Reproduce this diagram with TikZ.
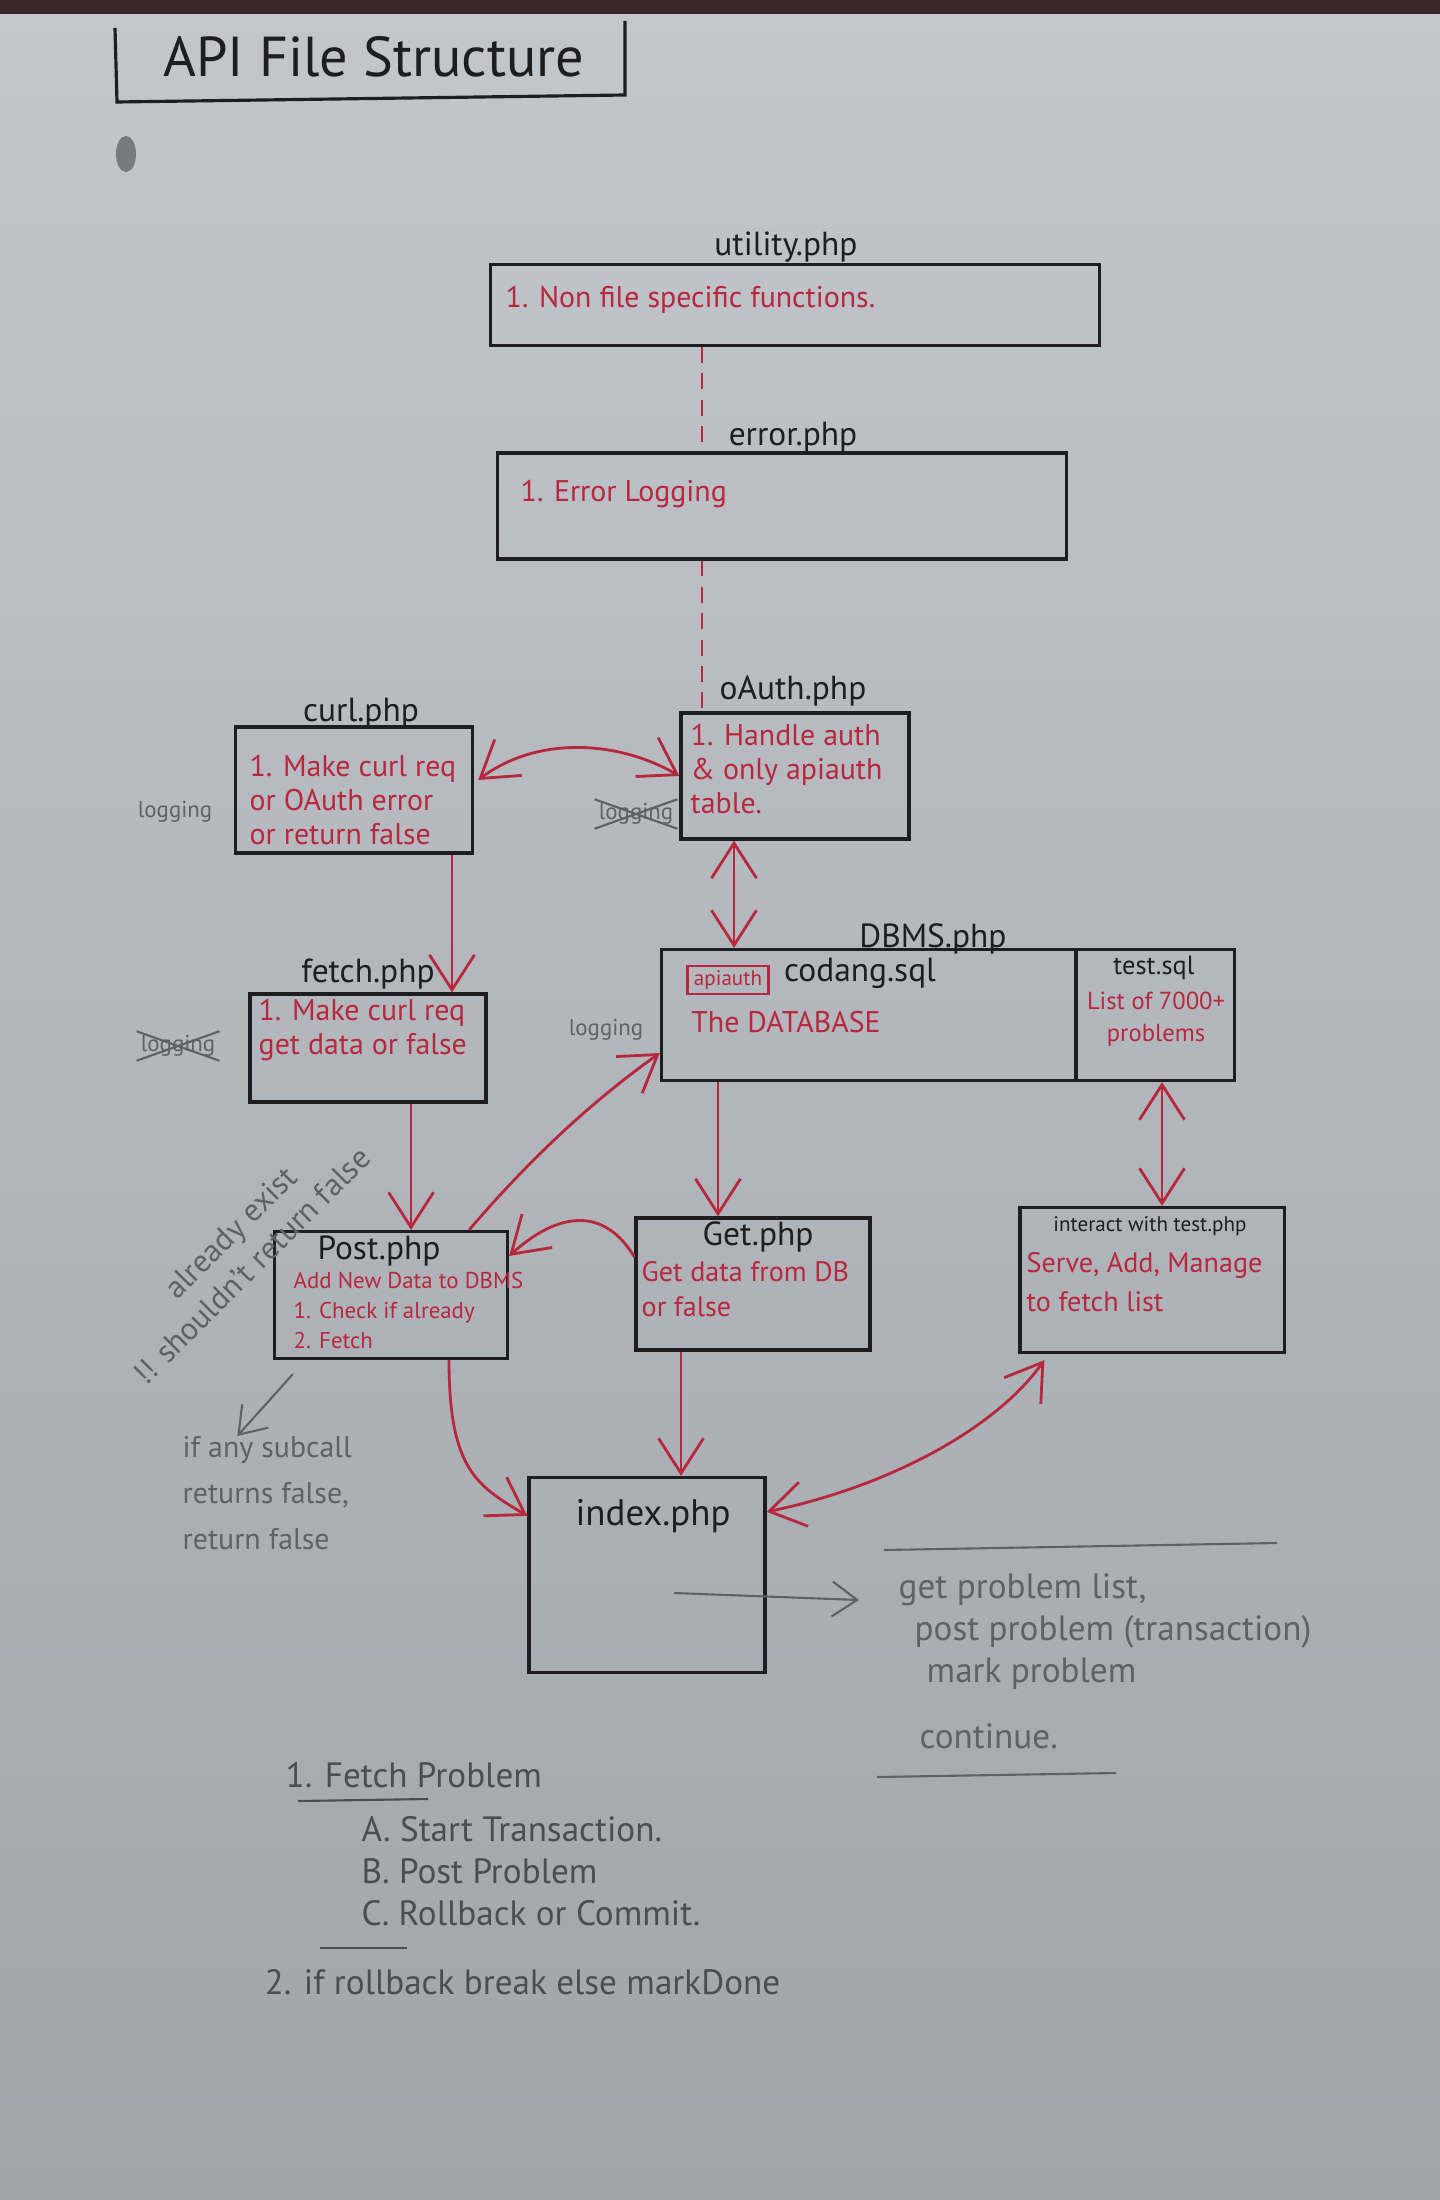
\documentclass[tikz,border=0pt]{standalone}
\usepackage{fontspec}
\setmainfont{PT Sans}
\usetikzlibrary{arrows.meta}
\usetikzlibrary{calc,positioning}

\definecolor{paper}{HTML}{C3C6CD}
\definecolor{paperlow}{HTML}{A0A4AB}
\definecolor{ink}{HTML}{1E1E22}
\definecolor{redink}{HTML}{B8283C}
\definecolor{pencil}{HTML}{5E6168}
\definecolor{lead}{HTML}{4A4D53}
\definecolor{tabletop}{HTML}{3A2628}

\tikzset{
  filebox/.style={draw=ink, line width=0.9pt, inner sep=0pt},
  fname/.style={text=ink, font=\fontsize{9.5}{11}\selectfont, inner sep=1pt},
  duty/.style={text=redink, font=\fontsize{8.5}{9.6}\selectfont, align=left, inner sep=0pt},
  logtag/.style={text=pencil, font=\fontsize{6.5}{8}\selectfont, inner sep=1pt},
  scrawl/.style={text=pencil, font=\fontsize{8.5}{13}\selectfont, align=left, inner sep=0pt},
  plan/.style={text=lead, font=\fontsize{10}{12}\selectfont, anchor=west, inner sep=0pt},
  call/.style={draw=redink, line width=0.8pt, ->, >={Straight Barb[length=3.5mm,width=4.5mm]}},
  calls/.style={call, <->},
  dep/.style={draw=redink, line width=0.8pt, dash pattern=on 4.5pt off 3pt},
  hint/.style={draw=pencil, line width=0.6pt, ->, >={Straight Barb[length=2.5mm,width=3.5mm]}},
  strike/.style={draw=pencil, line width=0.6pt},
}

\begin{document}
\begin{tikzpicture}[x=0.01cm, y=-0.01cm]
    \useasboundingbox (0,0) rectangle (1440,2200);
    \shade[top color=paper, bottom color=paperlow] (0,0) rectangle (1440,2200);
    \fill[tabletop] (0,0) rectangle (1440,14);

    % title
    \draw[ink, line width=0.9pt] (115,28) -- (117,102) -- (625,95) -- (625,21);
    \node[text=ink, font=\fontsize{16}{18}\selectfont] (title) at (374,57) {API File Structure};
    \fill[ink!45!paper] (126,154) ellipse (1mm and 1.8mm);

    % files
    \node[filebox, minimum width=6.08cm, minimum height=0.81cm] (utility) at (795,305) {};
    \node[fname] (utilityname) at (786,247) {utility.php};
    \node[duty, anchor=west] (utilitytext) at (505,300) {1. Non file specific functions.};

    \node[filebox, minimum width=5.69cm, minimum height=1.06cm] (error) at (782,506) {};
    \node[fname] (errorname) at (793,437) {error.php};
    \node[duty, anchor=west] (errortext) at (520,494) {1. Error Logging};

    \node[filebox, minimum width=2.37cm, minimum height=1.26cm] (curl) at (354,790) {};
    \node[fname] (curlname) at (361,713) {curl.php};
    \node[duty, anchor=north west] (curltext) at (249,755) {1. Make curl req\\or OAuth error\\or return false};
    \node[logtag] (curllog) at (175,812) {logging};

    \node[filebox, minimum width=2.28cm, minimum height=1.26cm] (oauth) at (795,776) {};
    \node[fname] (oauthname) at (793,691) {oAuth.php};
    \node[duty, anchor=north west] (oauthtext) at (690,724) {1. Handle auth\\\& only apiauth\\table.};
    \node[logtag] (oauthlog) at (636,814) {logging};
    \draw[strike] (oauthlog.south west) -- (oauthlog.north east) (oauthlog.north west) -- (oauthlog.south east);

    \node[filebox, minimum width=2.36cm, minimum height=1.08cm] (fetch) at (368,1048) {};
    \node[fname] (fetchname) at (368,974) {fetch.php};
    \node[duty, anchor=north west] (fetchtext) at (258,999) {1. Make curl req\\get data or false};
    \node[logtag] (fetchlog) at (178,1046) {logging};
    \draw[strike] (fetchlog.south west) -- (fetchlog.north east) (fetchlog.north west) -- (fetchlog.south east);

    \node[filebox, minimum width=5.73cm, minimum height=1.31cm] (dbms) at (948,1015) {};
    \coordinate (split) at (1076,0);
    \draw[ink, line width=0.9pt] (dbms.north -| split) -- (dbms.south -| split);
    \node[fname] (dbmsname) at (933,939) {DBMS.php};
    \node[draw=redink, line width=0.7pt, text=redink, font=\fontsize{6}{7}\selectfont,
          minimum width=0.81cm, minimum height=0.28cm, inner sep=1pt] (apiauth) at (728,980) {apiauth};
    \node[fname] (codang) at (860,973) {codang.sql};
    \node[duty] (database) at (786,1022) {The DATABASE};
    \node[fname, font=\fontsize{7.5}{9}\selectfont] (testsql) at (1154,968) {test.sql};
    \node[duty, align=center, font=\fontsize{7}{9}\selectfont] (testtext) at (1156,1019) {List of 7000+\\problems};
    \node[logtag] (dbmslog) at (606,1030) {logging};

    \node[filebox, minimum width=2.33cm, minimum height=1.27cm] (post) at (391,1295) {};
    \node[fname] (postname) at (379,1251) {Post.php};
    \node[duty, anchor=north west, font=\fontsize{6.5}{8.4}\selectfont] (posttext) at (293,1272) {Add New Data to DBMS\\1. Check if already\\2. Fetch};

    \node[filebox, minimum width=2.34cm, minimum height=1.32cm] (get) at (753,1284) {};
    \node[fname] (getname) at (758,1237) {Get.php};
    \node[duty, anchor=north west, font=\fontsize{8}{10}\selectfont] (gettext) at (641,1261) {Get data from DB\\or false};

    \node[filebox, minimum width=2.64cm, minimum height=1.45cm] (interact) at (1152,1280) {};
    \node[fname, font=\fontsize{6}{7}\selectfont] (interactname) at (1150,1226) {interact with test.php};
    \node[duty, anchor=north west, font=\fontsize{8}{11}\selectfont] (interacttext) at (1026,1252) {Serve, Add, Manage\\to fetch list};

    \node[filebox, minimum width=2.36cm, minimum height=1.95cm] (index) at (647,1575) {};
    \node[fname, font=\fontsize{10.5}{12}\selectfont] (indexname) at (653,1516) {index.php};

    % connectors
    \coordinate (spine) at (702,0);
    \draw[dep] (utility.south -| spine) -- (error.north -| spine);
    \draw[dep] (error.south -| spine) -- (oauth.north -| spine);

    \draw[calls] ($(curl.east)+(4,-10)$) .. controls +(60,-45) and +(-60,-35) .. (oauth.west);

    \coordinate (curldrop) at (452,0);
    \draw[call] (curl.south -| curldrop) -- (fetch.north -| curldrop);
    \coordinate (authdrop) at (734,0);
    \draw[calls] (oauth.south -| authdrop) -- (dbms.north -| authdrop);
    \coordinate (fetchdrop) at (411,0);
    \draw[call] (fetch.south -| fetchdrop) -- (post.north -| fetchdrop);

    \draw[call] ($(post.north east)+(-40,0)$) .. controls +(60,-70) and +(-70,50) .. ($(dbms.west)+(0,38)$);

    \coordinate (dbdrop) at (718,0);
    \draw[call] (dbms.south -| dbdrop) -- (get.north -| dbdrop);
    \draw[call] ($(get.north west)!0.3!(get.south west)$) .. controls +(-30,-50) and +(50,-45) .. ($(post.north east)!0.2!(post.south east)$);

    \coordinate (testdrop) at (1162,0);
    \draw[calls] (dbms.south -| testdrop) -- (interact.north -| testdrop);

    \coordinate (getdrop) at (681,0);
    \draw[call] (get.south -| getdrop) -- (index.north -| getdrop);
    \draw[call] ($(post.south)+(58,0)$) .. controls +(0,110) and +(-50,-30) .. ($(index.north west)+(0,40)$);
    \draw[calls] ($(index.north east)+(0,36)$) .. controls +(120,-25) and +(-50,70) .. ($(interact.south west)+(26,6)$);

    % pencil notes
    \node[scrawl, rotate=45, font=\fontsize{9}{11}\selectfont] (dupnote) at (238,1252) {\hspace*{2.6em}already exist\\!! shouldn't return false};
    \node[scrawl, anchor=north west] (subcall) at (182,1436) {if any subcall\\returns false,\\return false};
    \draw[hint] ($(post.south west)+(20,14)$) -- ($(subcall.north)+(-30,0)$);

    \draw[pencil, line width=0.6pt] (884,1550) -- (1277,1543);
    \node[plan, text=pencil] (prob1) at (898,1590) {get problem list,};
    \node[plan, text=pencil] (prob2) at (914,1632) {post problem (transaction)};
    \node[plan, text=pencil] (prob3) at (926,1674) {mark problem};
    \node[plan, text=pencil] (prob4) at (919,1736) {continue.};
    \draw[pencil, line width=0.6pt] (877,1777) -- (1116,1773);
    \draw[hint] ($(index.center)+(27,18)$) -- ($(prob1.west)+(-39,10)$);

    \node[plan] (step1) at (285,1775) {1. Fetch Problem};
    \draw[lead, line width=0.6pt] (298,1801) -- (428,1799);
    \node[plan] (stepA) at (361,1829) {A. Start Transaction.};
    \node[plan] (stepB) at (361,1871) {B. Post Problem};
    \node[plan] (stepC) at (361,1913) {C. Rollback or Commit.};
    \draw[lead, line width=0.6pt] (320,1948) -- (407,1948);
    \node[plan] (step2) at (264,1982) {2. if rollback break else markDone};
\end{tikzpicture}
\end{document}
